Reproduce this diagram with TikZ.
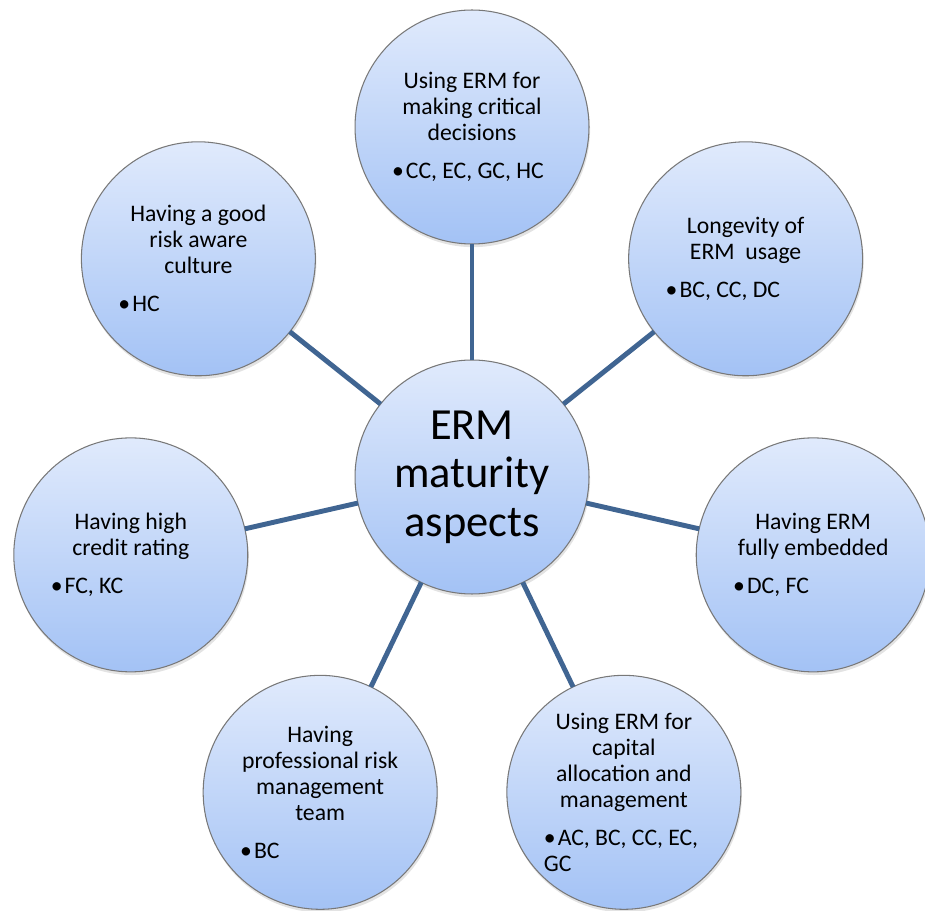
\documentclass[tikz,border=0pt]{standalone}
\usepackage{fontspec}
\setmainfont{Carlito}
\usetikzlibrary{calc,shadows}

\definecolor{bubbletop}{RGB}{224,234,252}
\definecolor{bubblebot}{RGB}{163,194,245}
\definecolor{spoke}{RGB}{64,101,146}
\definecolor{rim}{RGB}{120,120,120}

% text of an outer bubble: centred heading, then a left-aligned bullet line
\newcommand\outerfont{\fontsize{13.5}{14.8}\selectfont}
\newcommand\hubfont{\fontsize{25.3}{27.6}\selectfont}
\newcommand\bubbletext[2]{%
  \begin{minipage}{3.2cm}\outerfont
    \centering #1\par\vspace{6.8pt}%
    \raggedright •\kern1.2pt#2%
  \end{minipage}}

\tikzset{
  bubble/.style={circle, minimum size=4.68cm, inner sep=0pt, outer sep=0pt,
    draw=rim, line width=0.6pt, top color=bubbletop, bottom color=bubblebot,
    drop shadow={opacity=0.22, shadow xshift=0.6pt, shadow yshift=-1.8pt}},
  spokeline/.style={draw=spoke, line width=2.8pt},
}

\begin{document}
\begin{tikzpicture}[x=0.02cm, y=0.02cm]
  \useasboundingbox (0,0) rectangle (925,910);
  \clip (0,0) rectangle (925,910);

  % hub
  \node[bubble, align=center, font=\hubfont] (hub) at (472,433)
    {ERM\\maturity\\aspects};

  % seven aspects spaced evenly around the hub
  \node[bubble] (a1) at ($(hub)+(90:350)$)
    {\bubbletext{Using ERM for\\making critical\\decisions}{CC, EC, GC, HC}};
  \node[bubble] (a2) at ($(hub)+(38.571:350)$)
    {\bubbletext{Longevity of\\ERM\ \ usage}{BC, CC, DC}};
  \node[bubble] (a3) at ($(hub)+(-12.857:350)$)
    {\bubbletext{Having ERM\\fully embedded}{DC, FC}};
  \node[bubble] (a4) at ($(hub)+(-64.286:350)$)
    {\bubbletext{Using ERM for\\capital\\allocation and\\management}{AC, BC, CC, EC,\\GC}};
  \node[bubble] (a5) at ($(hub)+(-115.714:350)$)
    {\bubbletext{Having\\professional risk\\management\\team}{BC}};
  \node[bubble] (a6) at ($(hub)+(-167.143:350)$)
    {\bubbletext{Having high\\credit rating}{FC, KC}};
  \node[bubble] (a7) at ($(hub)+(141.429:350)$)
    {\bubbletext{Having a good\\risk aware\\culture}{HC}};

  % spokes
  \foreach \n in {a1,a2,a3,a4,a5,a6,a7}
    \draw[spokeline] (hub) -- (\n);
\end{tikzpicture}
\end{document}
